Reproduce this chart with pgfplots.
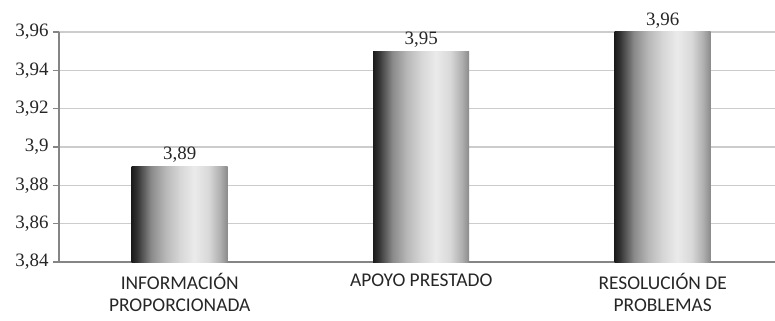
\documentclass[border=0pt]{standalone}
\usepackage{pgfplots}
\pgfplotsset{compat=1.18}
\usepackage{fontspec}
\setmainfont{Liberation Serif}
\newfontfamily\carl{Carlito}

% grey levels across the width of each bar (dark left, bright two thirds in, darker right edge)
\definecolor{s0}{gray}{0.11}
\definecolor{s1}{gray}{0.19}
\definecolor{s2}{gray}{0.35}
\definecolor{s3}{gray}{0.54}
\definecolor{s4}{gray}{0.72}
\definecolor{s5}{gray}{0.84}
\definecolor{s6}{gray}{0.92}
\definecolor{s7}{gray}{0.85}
\definecolor{s8}{gray}{0.69}
\definecolor{s9}{gray}{0.54}
\pgfdeclarehorizontalshading{barshade}{100bp}{%
  color(0bp)=(s0); color(25bp)=(s0); color(27.5bp)=(s1); color(31bp)=(s2);
  color(35bp)=(s3); color(42.5bp)=(s4); color(50bp)=(s5); color(57.5bp)=(s6);
  color(65bp)=(s7); color(71bp)=(s8); color(75bp)=(s9); color(100bp)=(s9)}

\definecolor{axisgrey}{gray}{0.52}
\definecolor{gridgrey}{gray}{0.80}
\definecolor{txt}{gray}{0.15}

\begin{document}
\begin{tikzpicture}
\begin{axis}[
  at={(0,0)}, anchor=south west,
  scale only axis,
  width=716bp, height=230bp,
  xmin=-0.5, xmax=2.465,
  ymin=3.84, ymax=3.96,
  ytick={3.84,3.86,...,3.96},
  xtick={0,1,2},
  xticklabels={{INFORMACIÓN\\PROPORCIONADA},{APOYO PRESTADO},{RESOLUCIÓN DE\\PROBLEMAS}},
  xticklabel style={font=\carl\fontsize{19.5}{22}\selectfont, align=center, text=txt, anchor=north, yshift=-2bp},
  yticklabel style={font=\fontsize{19}{20}\selectfont, text=txt, xshift=-1bp},
  /pgf/number format/assume math mode=true,
  /pgf/number format/use comma,
  yticklabel={\pgfmathprintnumber[fixed, precision=2]{\tick}},
  axis x line*=bottom,
  axis y line*=left,
  axis line style={draw=axisgrey, line width=1.2bp},
  x axis line style={-},
  y axis line style={-},
  xtick style={draw=none},
  ytick style={draw=axisgrey, line width=1.2bp},
  tick align=outside,
  major tick length=6bp,
  ymajorgrids,
  grid style={draw=gridgrey, line width=1.2bp},
  ybar, bar width=96bp, bar shift=0pt,
  nodes near coords={\pgfmathprintnumber[fixed, fixed zerofill, precision=2, use comma]{\pgfplotspointmeta}},
  every node near coord/.append style={font=\fontsize{19}{20}\selectfont, text=txt},
  clip=true,
]
% one plot per bar so that each bar carries its own gradient
\addplot[draw=none, shading=barshade] coordinates {(0,3.89)};
\addplot[draw=none, shading=barshade] coordinates {(1,3.95)};
\addplot[draw=none, shading=barshade] coordinates {(2,3.96)};
\end{axis}
\pgfresetboundingbox
\useasboundingbox (-59bp,-59bp) rectangle (716bp,262bp);
\end{tikzpicture}
\end{document}
